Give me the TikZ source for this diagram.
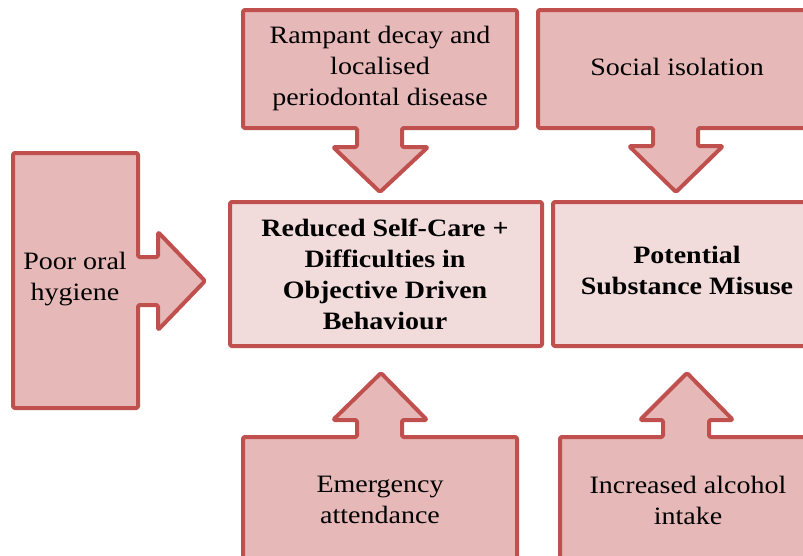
\documentclass[tikz,border=0pt]{standalone}
\usepackage{fontspec}
\setmainfont[FakeStretch=1.12]{Liberation Serif}
\definecolor{callfill}{HTML}{E6B9B8}
\definecolor{callline}{HTML}{C0504D}
\definecolor{boxfill}{HTML}{F2DCDB}
\begin{document}
\begin{tikzpicture}[x=1pt,y=-1pt,
  callshape/.style={draw=callline,fill=callfill,line width=4pt,line join=round,rounded corners=1.5pt},
  mainbox/.style={draw=callline,fill=boxfill,line width=4pt,line join=round,rounded corners=1.5pt},
  lbl/.style={align=center,font=\fontsize{25}{31}\selectfont,inner sep=0pt},
  blbl/.style={align=center,font=\fontsize{25}{31}\selectfont\bfseries,inner sep=0pt}]
\useasboundingbox (0,0) rectangle (803,555);
\clip (0,0) rectangle (803,555);
% centre boxes
\draw[mainbox] (230,202) rectangle (542,346);
\node[blbl] (care) at (385,274) {Reduced Self-Care +\\Difficulties in\\Objective Driven\\Behaviour};
\draw[mainbox] (553,202) rectangle (821,346);
\node[blbl] (subst) at (687,270) {Potential\\Substance Misuse};
% left callout
\draw[callshape] (13,153) -- (138,153) -- (138,257) -- (158,257) -- (158,232) -- (205,281)
  -- (158,330) -- (158,305) -- (138,305) -- (138,408) -- (13,408) -- cycle;
\node[lbl] (oral) at (75,279) {Poor oral\\hygiene};
% top-left callout
\draw[callshape] (243,10) -- (517,10) -- (517,128) -- (402,128) -- (402,147) -- (428,147) -- (380,192)
  -- (333,147) -- (357,147) -- (357,128) -- (243,128) -- cycle;
\node[lbl] (decay) at (380,68) {Rampant decay and\\localised\\periodontal disease};
% top-right callout
\draw[callshape] (538,10) -- (816,10) -- (816,128) -- (698,128) -- (698,146) -- (723,146) -- (676,192)
  -- (629,146) -- (653,146) -- (653,128) -- (538,128) -- cycle;
\node[lbl] (iso) at (677,67) {Social isolation};
% bottom-left callout
\draw[callshape] (243,437) -- (357,437) -- (357,420) -- (333,420) -- (381,373) -- (427,420)
  -- (402,420) -- (402,437) -- (517,437) -- (517,565) -- (243,565) -- cycle;
\node[lbl] (emerg) at (380,500) {Emergency\\attendance};
% bottom-right callout
\draw[callshape] (560,437) -- (663,437) -- (663,420) -- (640,420) -- (687,373) -- (733,420)
  -- (709,420) -- (709,437) -- (816,437) -- (816,565) -- (560,565) -- cycle;
\node[lbl] (alc) at (688,500) {Increased alcohol\\intake};
\end{tikzpicture}
\end{document}
